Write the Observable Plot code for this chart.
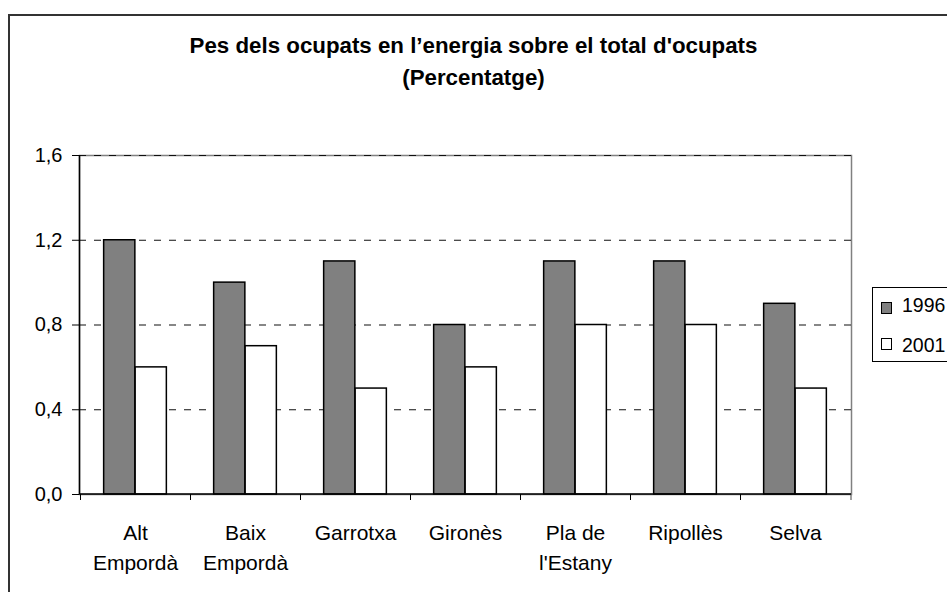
<!DOCTYPE html>
<html>
<head>
<meta charset="utf-8">
<script src="https://cdn.jsdelivr.net/npm/d3@7"></script>
<script src="https://cdn.jsdelivr.net/npm/@observablehq/plot@0.6"></script>
<style>
  body { margin: 0; background: #fff; }
  #wrap { position: relative; width: 947px; height: 592px; overflow: hidden; font-family: "Liberation Sans", Arial, sans-serif; }
  #wrap svg { position: absolute; left: 0; top: 0; }
  #frame { position: absolute; left: 8px; top: 14px; width: 1200px; height: 1200px; border: 2px solid #333; box-sizing: border-box; }
  #title { position: absolute; left: 0; top: 30px; width: 947px; text-align: center; font-weight: bold; font-size: 22.3px; line-height: 32px; color: #000; }
  #legend { position: absolute; left: 872px; top: 287px; width: 120px; height: 75px; border: 1px solid #000; background: #fff; box-sizing: border-box; }
  .sw { position: absolute; left: 8px; width: 9px; height: 10px; border: 1.5px solid #000; }
  .lt { position: absolute; left: 29px; font-size: 19.5px; line-height: 19px; color: #000; }
</style>
</head>
<body>
<div id="wrap"></div>
<script>
// ---- data ----
const categories = ["Alt\nEmpordà", "Baix\nEmpordà", "Garrotxa", "Gironès", "Pla de\nl'Estany", "Ripollès", "Selva"];
const series = ["1996", "2001"];
const values1996 = [1.2, 1.0, 1.1, 0.8, 1.1, 1.1, 0.9];
const values2001 = [0.6, 0.7, 0.5, 0.6, 0.8, 0.8, 0.5];
const yTicks = [0, 0.4, 0.8, 1.2, 1.6];
const titleLines = ["Pes dels ocupats en l\u2019energia sobre el total d'ocupats", "(Percentatge)"];
const seriesFill = ["#808080", "#ffffff"];

const data = categories.flatMap((c, i) => [
  {cat: c, year: series[0], v: values1996[i]},
  {cat: c, year: series[1], v: values2001[i]}
]);

// ---- layout ----
const W = 947, H = 592, ML = 79, MR = 96, MT = 155, MB = 98;
const band = (W - ML - MR) / categories.length;
const barW = band * 31.5 / 110.3;
const outer = (band - 2 * barW) / 2;

function axisLines(index, scales, values, dims) {
  const g = d3.create("svg:g");
  const x = scales.x;
  const bw = x.bandwidth ? x.bandwidth() : band;
  const y0 = dims.height - dims.marginBottom;
  const xl = dims.marginLeft, xr = dims.width - dims.marginRight;
  // x ticks at band boundaries
  categories.forEach(c => {
    const xx = Math.round(x(c)) + 0.5;
    g.append("line").attr("x1", xx).attr("x2", xx).attr("y1", y0).attr("y2", y0 + 6)
      .attr("stroke", "#000").attr("stroke-width", 1);
  });
  const xe = xr;
  g.append("line").attr("x1", xe).attr("x2", xe).attr("y1", y0).attr("y2", y0 + 6)
    .attr("stroke", "#808080").attr("stroke-width", 1.5);
  // left axis line and bottom axis line
  g.append("line").attr("x1", xl + 0.5).attr("x2", xl + 0.5).attr("y1", dims.marginTop).attr("y2", y0)
    .attr("stroke", "#000").attr("stroke-width", 1.5);
  g.append("line").attr("x1", xl).attr("x2", xr).attr("y1", y0).attr("y2", y0)
    .attr("stroke", "#000").attr("stroke-width", 1.5);
  return g.node();
}

const chart = Plot.plot({
  width: W, height: H,
  marginLeft: ML, marginRight: MR, marginTop: MT, marginBottom: MB,
  style: {fontFamily: "'Liberation Sans', Arial, sans-serif", fontSize: "20px", color: "#000", background: "transparent", overflow: "visible"},
  x: {domain: categories, padding: 0, axis: null},
  y: {domain: [0, 1.6], axis: null},
  marks: [
    Plot.frame({stroke: "#808080", strokeWidth: 1.5}),
    Plot.ruleY(yTicks.filter(d => d > 0), {stroke: "#111", strokeDasharray: "7,8", strokeWidth: 1.2}),
    Plot.barY(data.filter(d => d.year === series[0]), {x: "cat", y: "v", fill: seriesFill[0], stroke: "#000", strokeWidth: 1.5, insetLeft: outer, insetRight: outer + barW}),
    Plot.barY(data.filter(d => d.year === series[1]), {x: "cat", y: "v", fill: seriesFill[1], stroke: "#000", strokeWidth: 1.5, insetLeft: outer + barW, insetRight: outer}),
    Plot.axisY({ticks: yTicks, tickSize: 7, tickPadding: 10, tickFormat: d => d.toFixed(1).replace(".", ","), fontSize: 20, label: null, stroke: "#000"}),
    Plot.text(categories, {x: d => d, frameAnchor: "bottom", lineAnchor: "top", dy: 24, fontSize: 21, lineHeight: 1.43, fill: "#000"}),
    axisLines
  ]
});

const wrap = document.getElementById("wrap");
wrap.appendChild(chart);

const frame = document.createElement("div");
frame.id = "frame";
wrap.appendChild(frame);

const title = document.createElement("div");
title.id = "title";
titleLines.forEach(t => { const d = document.createElement("div"); d.textContent = t; title.appendChild(d); });
wrap.appendChild(title);

const legend = document.createElement("div");
legend.id = "legend";
series.forEach((s, i) => {
  const sw = document.createElement("div");
  sw.className = "sw";
  sw.style.top = (14 + i * 36) + "px";
  sw.style.background = seriesFill[i];
  legend.appendChild(sw);
  const lt = document.createElement("div");
  lt.className = "lt";
  lt.style.top = (8 + i * 40) + "px";
  lt.textContent = s;
  legend.appendChild(lt);
});
wrap.appendChild(legend);
</script>
</body>
</html>
